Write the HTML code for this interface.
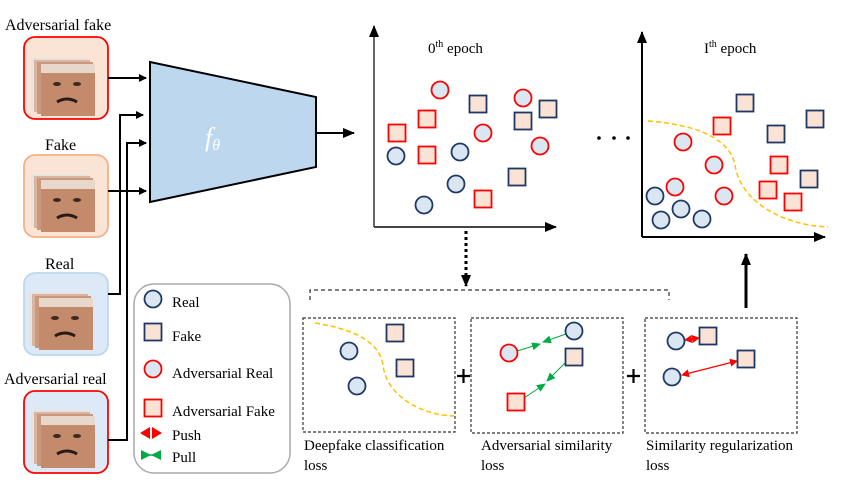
<!DOCTYPE html>
<html><head><meta charset="utf-8"><style>
html,body{margin:0;padding:0;background:#fff;}
svg{display:block;font-family:"Liberation Serif",serif;}
</style></head><body>
<svg width="854" height="488" viewBox="0 0 854 488" xmlns="http://www.w3.org/2000/svg">
<defs>
<marker id="ah" markerWidth="8" markerHeight="8" refX="7" refY="4" orient="auto" markerUnits="userSpaceOnUse"><path d="M0,0 L8,4 L0,8 z" fill="#000"/></marker>
<marker id="ahb" markerWidth="12" markerHeight="10" refX="11" refY="5" orient="auto" markerUnits="userSpaceOnUse"><path d="M0,0 L12,5 L0,10 z" fill="#000"/></marker>
<marker id="rh" markerWidth="8" markerHeight="8" refX="7" refY="4" orient="auto-start-reverse" markerUnits="userSpaceOnUse"><path d="M0,0 L8,4 L0,8 z" fill="#f00"/></marker>
<marker id="gh" markerWidth="9" markerHeight="8" refX="8" refY="4" orient="auto" markerUnits="userSpaceOnUse"><path d="M0,0 L9,4 L0,8 z" fill="#0a4"/></marker>
<g id="face">
<rect x="0" y="0" width="56" height="52" fill="#e9e3df"/>
<rect x="3" y="2" width="56" height="52" fill="#d9b5a0"/>
<rect x="6" y="4" width="56" height="52" fill="#c9987e"/>
<rect x="10" y="6" width="54" height="52" fill="#c48a6c"/>
<rect x="10" y="6" width="54" height="9" fill="#e8d8cc"/>
<ellipse cx="26" cy="26" rx="4" ry="2" fill="#3a2a22"/>
<ellipse cx="46" cy="26" rx="4" ry="2" fill="#3a2a22"/>
<path d="M26,44 Q36,38 46,44" stroke="#2a1a14" stroke-width="3" fill="none"/>
</g>
<g id="cn"><circle r="8.5" fill="#dbe6f3" stroke="#1f3864" stroke-width="1.8"/></g>
<g id="cr"><circle r="8.5" fill="#dbe6f3" stroke="#f00" stroke-width="1.8"/></g>
<g id="sn"><rect x="-8.5" y="-8.5" width="17" height="17" fill="#fae3d5" stroke="#1f3864" stroke-width="1.8"/></g>
<g id="sr"><rect x="-8.5" y="-8.5" width="17" height="17" fill="#fae3d5" stroke="#f00" stroke-width="1.8"/></g>
</defs>

<text x="5" y="30" font-size="16">Adversarial fake</text>
<rect x="24" y="37" width="84" height="82" rx="11" fill="#fae4d6" stroke="#f00" stroke-width="1.8"/>
<use href="#face" x="31" y="58"/>
<text x="45" y="150" font-size="16">Fake</text>
<rect x="24" y="155" width="84" height="82" rx="11" fill="#fae4d6" stroke="#f4b183" stroke-width="1.8"/>
<use href="#face" x="31" y="174"/>
<text x="45" y="269" font-size="16">Real</text>
<rect x="24" y="273" width="84" height="82" rx="11" fill="#dde9f6" stroke="#bdd7ee" stroke-width="1.8"/>
<use href="#face" x="29" y="292"/>
<text x="4" y="384" font-size="16">Adversarial real</text>
<rect x="24" y="391" width="84" height="82" rx="11" fill="#dde9f6" stroke="#f00" stroke-width="1.8"/>
<use href="#face" x="31" y="410"/>

<g stroke="#000" stroke-width="2" fill="none">
<line x1="108" y1="78" x2="146" y2="78" marker-end="url(#ah)"/>
<line x1="108" y1="191" x2="146" y2="191" marker-end="url(#ah)"/>
<polyline points="108,294 120,294 120,115 143,115" marker-end="url(#ah)"/>
<polyline points="108,440 127,440 127,143 146,143" marker-end="url(#ah)"/>
<line x1="316" y1="133" x2="354" y2="133" marker-end="url(#ahb)"/>
</g>
<polygon points="150,62 316,97 316,167 150,202" fill="#bdd7ee" stroke="#000" stroke-width="2"/>
<text x="205" y="146" font-size="26" font-style="italic" fill="#fff">f<tspan font-size="16" dy="4">θ</tspan></text>

<rect x="134" y="284" width="156" height="189" rx="20" fill="#fff" stroke="#aaa" stroke-width="1.5"/>
<use href="#cn" x="153" y="299"/><text x="172" y="307" font-size="15">Real</text>
<use href="#sn" x="153" y="332"/><text x="172" y="341" font-size="15">Fake</text>
<use href="#cr" x="153" y="369"/><text x="172" y="378" font-size="15">Adversarial Real</text>
<use href="#sr" x="153" y="408"/><text x="172" y="416" font-size="15">Adversarial Fake</text>
<path d="M140,433 L150,427 L150,439 z M162,433 L152,427 L152,439 z" fill="#f00"/>
<text x="172" y="440" font-size="15">Push</text>
<path d="M141,450 L151,455 L141,460 z M161,450 L151,455 L161,460 z" fill="#0a4"/>
<line x1="141" y1="455" x2="161" y2="455" stroke="#0a4" stroke-width="1.5"/>
<text x="172" y="462" font-size="15">Pull</text>

<g stroke-width="2" fill="none">
<line x1="374" y1="227" x2="374" y2="26" marker-end="url(#ahb)" stroke="#666"/>
<line x1="374" y1="227" x2="556" y2="227" marker-end="url(#ahb)" stroke="#444"/>
</g>
<text x="428" y="53" font-size="15">0<tspan font-size="10" dy="-6">th</tspan><tspan dy="6"> epoch</tspan></text>
<use href="#cr" x="440" y="90"/><use href="#sn" x="478" y="104"/><use href="#cr" x="523" y="98"/><use href="#sn" x="548" y="109"/>
<use href="#sr" x="427" y="119"/><use href="#sn" x="523" y="121"/><use href="#sr" x="397" y="133"/><use href="#cr" x="483" y="133"/>
<use href="#cr" x="540" y="146"/><use href="#cn" x="396" y="156"/><use href="#sr" x="427" y="155"/><use href="#cn" x="460" y="152"/>
<use href="#sn" x="517" y="177"/><use href="#cn" x="456" y="184"/><use href="#sr" x="483" y="199"/><use href="#cn" x="424" y="205"/>

<circle cx="599" cy="138" r="1.8" fill="#000"/><circle cx="614" cy="138" r="1.8" fill="#000"/><circle cx="628" cy="138" r="1.8" fill="#000"/>

<g stroke="#000" stroke-width="2" fill="none">
<line x1="642" y1="237" x2="642" y2="32" marker-end="url(#ahb)"/>
<line x1="642" y1="237" x2="825" y2="237" marker-end="url(#ahb)"/>
</g>
<text x="704" y="53" font-size="15">I<tspan font-size="10" dy="-6">th</tspan><tspan dy="6"> epoch</tspan></text>
<path d="M648,121 C700,125 730,140 735,165 C740,200 780,225 828,227" stroke="#ffc000" stroke-width="1.5" stroke-dasharray="5,3" fill="none"/>
<use href="#sn" x="745" y="103"/><use href="#sn" x="815" y="119"/><use href="#sr" x="722" y="126"/><use href="#sn" x="776" y="134"/>
<use href="#cr" x="683" y="142"/><use href="#cr" x="714" y="165"/><use href="#sr" x="779" y="165"/><use href="#sn" x="809" y="179"/>
<use href="#cr" x="675" y="187"/><use href="#sr" x="768" y="190"/><use href="#cr" x="724" y="196"/><use href="#sr" x="793" y="202"/>
<use href="#cn" x="655" y="196"/><use href="#cn" x="681" y="209"/><use href="#cn" x="661" y="220"/><use href="#cn" x="702" y="219"/>

<line x1="466" y1="231" x2="466" y2="286" stroke="#000" stroke-width="3" stroke-dasharray="3,3" marker-end="url(#ahb)"/>
<line x1="746" y1="308" x2="746" y2="254" stroke="#000" stroke-width="3" marker-end="url(#ahb)"/>
<polyline points="310,300 310,290 669,290 669,300" stroke="#000" stroke-width="1" stroke-dasharray="4,3" fill="none"/>

<g stroke="#333" stroke-width="1.2" stroke-dasharray="3,2" fill="none">
<rect x="303" y="318" width="152" height="114"/>
<rect x="471" y="318" width="152" height="115"/>
<rect x="645" y="318" width="152" height="115"/>
</g>
<path d="M457,376 H470 M463.5,369 V383 M627,376 H640 M633.5,369 V383" stroke="#000" stroke-width="2.2"/>
<path d="M315,323 C360,330 380,345 383,365 C386,395 420,415 454,416" stroke="#ffc000" stroke-width="1.5" stroke-dasharray="5,3" fill="none"/>
<use href="#sn" x="395" y="333"/><use href="#sn" x="405" y="368"/><use href="#cn" x="349" y="351"/><use href="#cn" x="357" y="386"/>

<line x1="517" y1="351" x2="540" y2="344" stroke="#0a4" stroke-width="1" marker-end="url(#gh)"/>
<line x1="566" y1="334" x2="543" y2="342" stroke="#0a4" stroke-width="1" marker-end="url(#gh)"/>
<line x1="524" y1="398" x2="545" y2="384" stroke="#0a4" stroke-width="1" marker-end="url(#gh)"/>
<line x1="566" y1="362" x2="547" y2="381" stroke="#0a4" stroke-width="1" marker-end="url(#gh)"/>
<use href="#cr" x="509" y="353"/><use href="#cn" x="574" y="331"/><use href="#sn" x="574" y="357"/><use href="#sr" x="516" y="402"/>

<line x1="685" y1="340" x2="699" y2="338" stroke="#f00" stroke-width="1.2" marker-start="url(#rh)" marker-end="url(#rh)"/>
<line x1="682" y1="375" x2="737" y2="361" stroke="#f00" stroke-width="1.2" marker-start="url(#rh)" marker-end="url(#rh)"/>
<use href="#cn" x="676" y="341"/><use href="#sn" x="708" y="336"/><use href="#cn" x="672" y="377"/><use href="#sn" x="746" y="359"/>

<g font-size="15">
<text x="304" y="450">Deepfake classification</text><text x="304" y="470">loss</text>
<text x="481" y="450">Adversarial similarity</text><text x="481" y="470">loss</text>
<text x="646" y="450">Similarity regularization</text><text x="646" y="470">loss</text>
</g>
</svg>
</body></html>
